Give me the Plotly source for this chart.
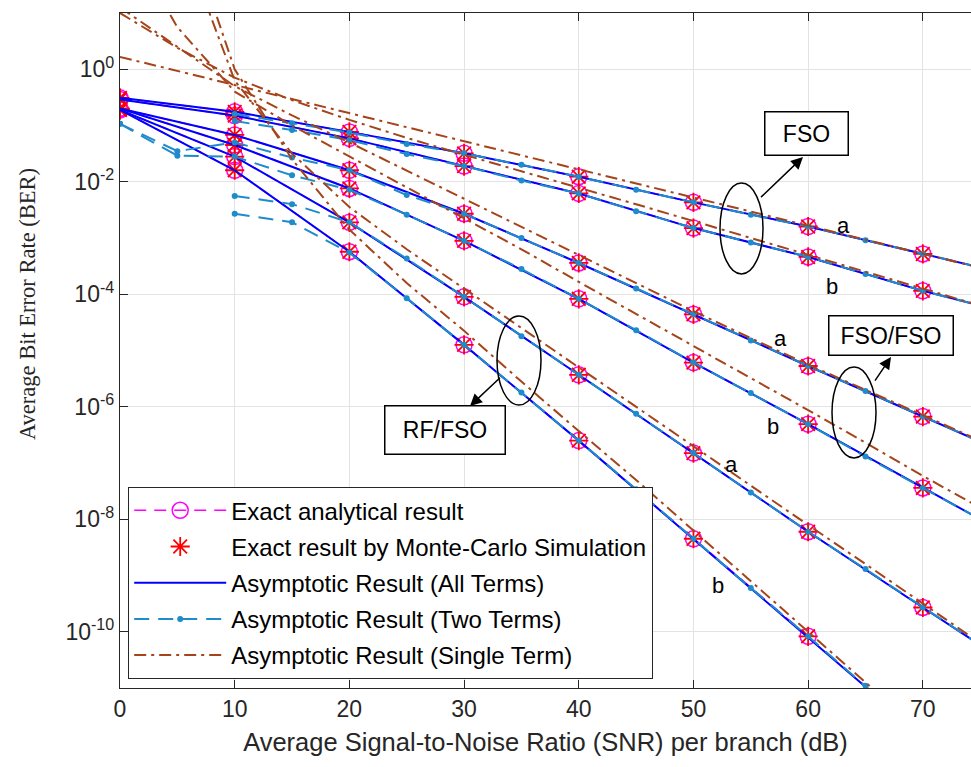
import plotly.graph_objects as go

# ---------------- data ----------------
snr_exact = [0, 10, 20, 30, 40, 50, 60, 70]
snr_all = [0, 10, 20, 30, 40, 50, 60, 70, 75]
snr_two = [0, 5, 10, 15, 20, 25, 30, 35, 40, 45, 50, 55, 60, 65, 70, 75]
snr_single = [0, 5, 10, 15, 20, 25, 30, 35, 40, 45, 50, 55, 60, 65, 70, 75]

# exact analytical / Monte-Carlo values (same points)
fso_a_exact = [0.31, 0.175, 0.077, 0.032, 0.0123, 0.0043, 0.0016, 5.2e-4]
fso_b_exact = [0.29, 0.15, 0.059, 0.019, 0.0062, 0.0015, 4.6e-4, 1.15e-4]
ff_a_exact = [0.20, 0.068, 0.016, 0.0027, 3.6e-4, 4.4e-5, 5.3e-6, 6.7e-7]
ff_b_exact = [0.20, 0.045, 0.0076, 8.9e-4, 8.3e-5, 6.1e-6, 4.9e-7, 3.6e-8]
rf_a_exact = [0.19, 0.028, 0.0019, 9.0e-5, 3.7e-6, 1.5e-7, 6.0e-9, 2.7e-10]
rf_b_exact = [0.19, 0.016, 5.7e-4, 1.26e-5, 2.5e-7, 4.5e-9, 8.3e-11, None]

# asymptotic, all terms
fso_a_all = [0.31, 0.175, 0.077, 0.032, 0.0123, 0.0043, 0.0016, 5.2e-4, 3.0e-4]
fso_b_all = [0.29, 0.15, 0.059, 0.019, 0.0062, 0.0015, 4.6e-4, 1.15e-4, 6.3e-5]
ff_a_all = [0.20, 0.068, 0.016, 0.0027, 3.6e-4, 4.4e-5, 5.3e-6, 6.7e-7, 2.4e-7]
ff_b_all = [0.20, 0.045, 0.0076, 8.9e-4, 8.3e-5, 6.1e-6, 4.9e-7, 3.6e-8, 1.0e-8]
rf_a_all = [0.19, 0.028, 0.0019, 9.0e-5, 3.7e-6, 1.5e-7, 6.0e-9, 2.7e-10, 5.8e-11]
rf_b_all = [0.19, 0.016, 5.7e-4, 1.26e-5, 2.5e-7, 4.5e-9, 8.3e-11, 1.4e-12, None]

# asymptotic, two terms (None = not positive, not drawn on log axis)
fso_a_two = [None, None, 0.16, 0.11, 0.075, 0.047, 0.032, 0.02, 0.0123, 0.0072,
             0.0043, 0.0026, 0.0016, 9.1e-4, 5.2e-4, 3.0e-4]
fso_b_two = [None, None, 0.12, 0.083, 0.055, 0.031, 0.019, 0.0105, 0.0062, 0.003,
             0.0015, 8.3e-4, 4.6e-4, 2.3e-4, 1.15e-4, 6.3e-5]
ff_a_two = [0.107, 0.035, 0.05, 0.027, 0.016, 0.0058, 0.0027, 0.001, 3.6e-4, 1.27e-4,
            4.4e-5, 1.5e-5, 5.3e-6, 1.9e-6, 6.7e-7, 2.4e-7]
ff_b_two = [0.107, 0.029, 0.028, 0.013, 0.0072, 0.0026, 8.9e-4, 2.8e-4, 8.3e-5, 2.3e-5,
            6.1e-6, 1.75e-6, 4.9e-7, 1.3e-7, 3.6e-8, 1.0e-8]
rf_a_two = [None, None, 0.0056, 0.004, 0.0019, 4.3e-4, 9.0e-5, 1.8e-5, 3.7e-6, 7.5e-7,
            1.5e-7, 3.0e-8, 6.0e-9, 1.3e-9, 2.7e-10, 5.8e-11]
rf_b_two = [None, None, 0.0027, 0.0019, 5.5e-4, 8.5e-5, 1.26e-5, 1.8e-6, 2.5e-7, 3.4e-8,
            4.5e-9, 6.0e-10, 8.3e-11, 1.1e-11, 1.4e-12, None]

# asymptotic, single term
fso_a_single = [1.66, 0.933, 0.525, 0.295, 0.166, 0.0933, 0.0525, 0.0295, 0.0166,
                0.00933, 0.00525, 0.00295, 0.00166, 9.33e-4, 5.25e-4, 2.95e-4]
fso_b_single = [10.0, 2.4, 0.708, 0.282, 0.126, 0.0603, 0.0302, 0.0155, 0.00794,
                0.00398, 0.002, 0.001, 5.0e-4, 2.5e-4, 1.26e-4, 6.3e-5]
ff_a_single = [12.6, 2.5, 0.5, 0.151, 0.05, 0.0158, 0.005, 0.00158, 4.9e-4, 1.58e-4,
               5.0e-5, 1.66e-5, 5.6e-6, 2.0e-6, 7.1e-7, 2.5e-7]
ff_b_single = [316.0, 5.6, 0.4, 0.1, 0.0282, 0.00794, 0.00224, 6.3e-4, 1.66e-4, 4.5e-5,
               1.2e-5, 3.2e-6, 8.7e-7, 2.3e-7, 5.9e-8, 1.6e-8]
rf_a_single = [1.0e5, 339.0, 0.63, 0.0316, 0.00355, 6.3e-4, 1.26e-4, 2.5e-5, 5.0e-6,
               1.0e-6, 2.0e-7, 4.0e-8, 7.9e-9, 1.6e-9, 3.2e-10, 6.3e-11]
rf_b_single = [3.2e5, 1000.0, 1.0, 0.0251, 0.00141, 1.58e-4, 2.24e-5, 2.8e-6, 3.7e-7,
               5.0e-8, 6.3e-9, 7.9e-10, 1.02e-10, 1.26e-11, 1.6e-12, 2.0e-13]

y_tick_vals = [1e-10, 1e-8, 1e-6, 1e-4, 1e-2, 1e0]
y_tick_text = ["10<sup>-10</sup>", "10<sup>-8</sup>", "10<sup>-6</sup>",
               "10<sup>-4</sup>", "10<sup>-2</sup>", "10<sup>0</sup>"]
x_tick_vals = [0, 10, 20, 30, 40, 50, 60, 70]

legend_names = ["Exact analytical result",
                "Exact result by Monte-Carlo Simulation",
                "Asymptotic Result (All Terms)",
                "Asymptotic Result (Two Terms)",
                "Asymptotic Result (Single Term)"]


def join(xs, series):
    X, Y = [], []
    for s in series:
        X += list(xs[:len(s)]) + [None]
        Y += list(s) + [None]
    return X, Y


exact_sets = [fso_a_exact, fso_b_exact, ff_a_exact, ff_b_exact, rf_a_exact, rf_b_exact]
all_sets = [fso_a_all, fso_b_all, ff_a_all, ff_b_all, rf_a_all, rf_b_all]
two_sets = [fso_a_two, fso_b_two, ff_a_two, ff_b_two, rf_a_two, rf_b_two]
single_sets = [fso_a_single, fso_b_single, ff_a_single, ff_b_single, rf_a_single, rf_b_single]

FONT = "Liberation Sans, Arial, sans-serif"
MAGENTA = "#FF00FF"
RED = "#FF0000"
BLUE = "#0000FF"
LBLUE = "#1E8BCB"
BROWN = "#A5441A"

fig = go.Figure()

x, y = join(snr_exact, exact_sets)
fig.add_trace(go.Scatter(x=x, y=y, mode="lines+markers", name=legend_names[0],
                         line=dict(color=MAGENTA, width=1.5, dash="12px,8px"),
                         marker=dict(symbol="circle-open", size=16, color=MAGENTA,
                                     line=dict(width=1.5, color=MAGENTA)),
                         legendgroup="g1", connectgaps=False))
fig.add_trace(go.Scatter(x=x, y=y, mode="markers", name=legend_names[1],
                         marker=dict(symbol="asterisk-open", size=16, color=RED,
                                     line=dict(width=1.8, color=RED)),
                         legendgroup="g2"))
x, y = join(snr_all, all_sets)
fig.add_trace(go.Scatter(x=x, y=y, mode="lines", name=legend_names[2],
                         line=dict(color=BLUE, width=2), legendgroup="g3"))
x, y = join(snr_two, two_sets)
fig.add_trace(go.Scatter(x=x, y=y, mode="lines+markers", name=legend_names[3],
                         line=dict(color=LBLUE, width=2, dash="15px,9px"),
                         marker=dict(symbol="circle", size=6, color=LBLUE),
                         legendgroup="g4", connectgaps=False))
x, y = join(snr_single, single_sets)
fig.add_trace(go.Scatter(x=x, y=y, mode="lines", name=legend_names[4],
                         line=dict(color=BROWN, width=2, dash="12px,5px,3px,5px"),
                         legendgroup="g5"))

# ---------------- layout helpers (pixel -> paper) ----------------
L, T, W, H = 120, 13, 851, 675


def px(xp):
    return (xp - L) / W


def py(yp):
    return (T + H - yp) / H


shapes = []
for (x0, x1, y0, y1) in [(720, 763, 183, 274), (832, 876, 367, 458), (497, 541, 316, 405)]:
    shapes.append(dict(type="circle", xref="paper", yref="paper",
                       x0=px(x0), x1=px(x1), y0=py(y1), y1=py(y0),
                       line=dict(color="black", width=1.5)))

annotations = []
# boxed labels
for (txt, cx, cy, w, h) in [("FSO", 806, 133, 85, 45), ("FSO/FSO", 891, 335, 126, 41),
                            ("RF/FSO", 445, 430, 122, 50)]:
    annotations.append(dict(text=txt, xref="paper", yref="paper", x=px(cx), y=py(cy),
                            xanchor="center", yanchor="middle", showarrow=False,
                            font=dict(family=FONT, size=23, color="black"),
                            bgcolor="white", bordercolor="black", borderwidth=1.5,
                            borderpad=0, width=w - 3, height=h - 3))
# arrows
for (tx, ty, hx, hy) in [(758, 200, 803, 157), (872, 385, 891, 357), (503, 375, 470, 406)]:
    annotations.append(dict(text=" ", xref="paper", yref="paper", x=px(hx), y=py(hy),
                            axref="pixel", ayref="pixel", ax=tx - hx, ay=ty - hy,
                            showarrow=True, arrowhead=2, arrowsize=1.6, arrowwidth=1.5,
                            arrowcolor="black", standoff=0))
# a / b labels
for (txt, cx, cy) in [("a", 843, 225), ("b", 832, 286), ("a", 780, 338), ("b", 773, 427),
                      ("a", 731, 465), ("b", 718, 585)]:
    annotations.append(dict(text=txt, xref="paper", yref="paper", x=px(cx), y=py(cy),
                            xanchor="center", yanchor="middle", showarrow=False,
                            font=dict(family=FONT, size=22, color="black")))
# y axis title (serif, as in the reference)
annotations.append(dict(text="Average Bit Error Rate (BER)", xref="paper", yref="paper",
                        x=px(27), y=py(304), textangle=-90, showarrow=False,
                        xanchor="center", yanchor="middle",
                        font=dict(family="Liberation Serif, Times New Roman, serif",
                                  size=22.5, color="#262626")))

fig.update_layout(
    width=971, height=767,
    margin=dict(l=L, r=0, t=T, b=767 - T - H),
    paper_bgcolor="white", plot_bgcolor="white",
    font=dict(family=FONT, color="#262626"),
    shapes=shapes, annotations=annotations,
    legend=dict(x=px(128), y=py(487), xanchor="left", yanchor="top",
                bgcolor="white", bordercolor="#262626", borderwidth=1.2,
                font=dict(family=FONT, size=24, color="black"),
                tracegroupgap=2, itemwidth=92, traceorder="grouped"),
    showlegend=True,
)
fig.update_xaxes(range=[0, 74.2], tickvals=x_tick_vals, ticks="inside", ticklen=8,
                 tickwidth=1.3, tickcolor="#262626",
                 showline=True, linecolor="#262626", linewidth=1.3, mirror="ticks",
                 showgrid=True, gridcolor="#E3E3E3", gridwidth=1.3, zeroline=False,
                 tickfont=dict(family=FONT, size=23, color="#262626"),
                 title=dict(text="Average Signal-to-Noise Ratio (SNR) per branch (dB)",
                            font=dict(family=FONT, size=25.5, color="#262626"), standoff=12))
fig.update_yaxes(type="log", range=[-11, 1], tickvals=y_tick_vals, ticktext=y_tick_text,
                 ticks="inside", ticklen=8, tickwidth=1.3, tickcolor="#262626",
                 showline=True, linecolor="#262626", linewidth=1.3, mirror=False,
                 showgrid=True, gridcolor="#E3E3E3", gridwidth=1.3, zeroline=False,
                 tickfont=dict(family=FONT, size=23, color="#262626"))

fig.write_html("out.html")
